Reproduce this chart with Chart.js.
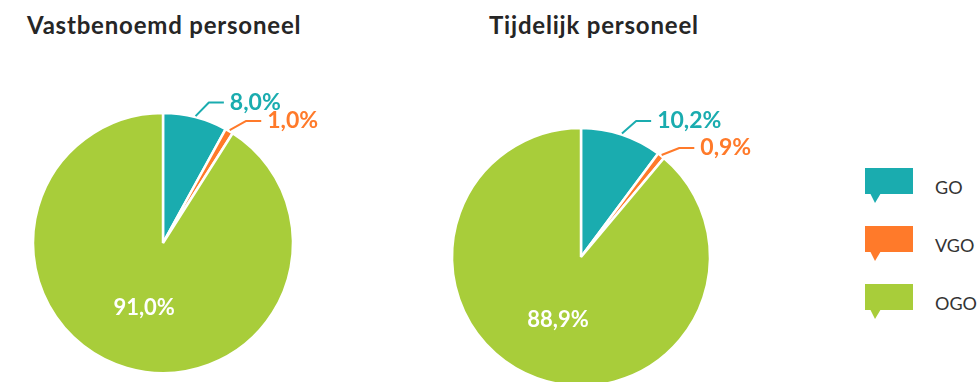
<!DOCTYPE html>
<html lang="nl">
<head>
<meta charset="utf-8">
<title>Personeel per net</title>
<script src="https://cdn.jsdelivr.net/npm/chart.js@4/dist/chart.umd.min.js"></script>
<style>
  html, body { margin: 0; padding: 0; background: #fff; overflow: hidden; }
  #stage { position: relative; width: 979px; height: 382px; overflow: hidden; }
  .heading {
    position: absolute; top: 13px; margin: 0;
    font: 700 24px/24px Lato, "Open Sans", sans-serif; color: #262626;
    letter-spacing: 0.8px; white-space: nowrap;
  }
  canvas.pie { position: absolute; top: 0; }
  #legend { position: absolute; left: 865px; top: 168px; }
  .item { position: relative; height: 58px; }
  .item svg { position: absolute; left: 0; top: 0; }
  .item span {
    position: absolute; left: 70px; top: 8px;
    font: 400 18px/22px Lato, "Open Sans", sans-serif; color: #333;
  }
</style>
</head>
<body>
<div id="stage">
  <h2 class="heading" id="h1" style="left:27px"></h2>
  <h2 class="heading" id="h2" style="left:489px"></h2>
  <canvas class="pie" id="pieVast" width="420" height="400" style="left:0"></canvas>
  <canvas class="pie" id="pieTijd" width="420" height="400" style="left:420px"></canvas>
  <div id="legend"></div>
</div>
<script>
// Onderwijsnetten en aandeel van het personeel (%)
const categories = ['GO', 'VGO', 'OGO'];
const vastbenoemd = [8.0, 1.0, 91.0];
const tijdelijk = [10.2, 0.9, 88.9];
const headings = ['Vastbenoemd personeel', 'Tijdelijk personeel'];

const netColors = ['#1aacaf', '#ff7a2a', '#a8cd3a'];

function pct(v) {
  return v.toFixed(1).replace('.', ',') + '%';
}

// Draws the percentage of every slice: white inside the big slice,
// coloured with a bent leader line next to the small ones.
const sliceLabels = {
  id: 'sliceLabels',
  afterDatasetsDraw(chart) {
    const ctx = chart.ctx;
    const meta = chart.getDatasetMeta(0);
    const values = chart.data.datasets[0].data;
    const colors = chart.data.datasets[0].backgroundColor;
    ctx.save();
    meta.data.forEach((arc, i) => {
      const p = arc.getProps(['x', 'y', 'startAngle', 'endAngle', 'outerRadius'], true);
      const mid = (p.startAngle + p.endAngle) / 2;
      const text = pct(values[i]);
      if (p.endAngle - p.startAngle > Math.PI) {
        const r = p.outerRadius * 0.52;
        ctx.font = '700 22px Lato, "Open Sans", sans-serif';
        ctx.fillStyle = '#ffffff';
        ctx.textAlign = 'center';
        ctx.textBaseline = 'middle';
        ctx.fillText(text, p.x + Math.cos(mid) * r, p.y + Math.sin(mid) * r);
        return;
      }
      const sx = p.x + Math.cos(mid) * (p.outerRadius + 1);
      const sy = p.y + Math.sin(mid) * (p.outerRadius + 1);
      const dir = mid + 30 * Math.PI / 180;
      const ex = sx + Math.cos(dir) * 19;
      const ey = sy + Math.sin(dir) * 19;
      const hx = ex + 15;
      ctx.strokeStyle = colors[i];
      ctx.lineWidth = 2;
      ctx.lineJoin = 'round';
      ctx.beginPath();
      ctx.moveTo(sx, sy);
      ctx.lineTo(ex, ey);
      ctx.lineTo(hx, ey);
      ctx.stroke();
      ctx.font = '700 23px Lato, "Open Sans", sans-serif';
      ctx.fillStyle = colors[i];
      ctx.textAlign = 'left';
      ctx.textBaseline = 'middle';
      ctx.fillText(text, hx + 6, ey);
    });
    ctx.restore();
  }
};

function makePie(id, values, radius, padding) {
  return new Chart(document.getElementById(id), {
    type: 'pie',
    data: {
      labels: categories,
      datasets: [{
        data: values,
        backgroundColor: netColors,
        borderColor: '#ffffff',
        borderWidth: 2.5
      }]
    },
    options: {
      responsive: false,
      animation: false,
      events: [],
      radius: radius,
      layout: { padding: padding },
      plugins: {
        legend: { display: false },
        tooltip: { enabled: false }
      }
    },
    plugins: [sliceLabels]
  });
}

document.getElementById('h1').textContent = headings[0];
document.getElementById('h2').textContent = headings[1];

makePie('pieVast', vastbenoemd, 130, { left: 33, right: 127, top: 113, bottom: 27 });
makePie('pieTijd', tijdelijk, 129, { left: 32, right: 130, top: 128, bottom: 14 });

// Legend: colour blocks shaped like speech bubbles
const legend = document.getElementById('legend');
categories.forEach((name, i) => {
  const item = document.createElement('div');
  item.className = 'item';
  item.innerHTML =
    '<svg width="48" height="36" viewBox="0 0 48 36">' +
    '<rect x="0" y="0" width="48" height="26" fill="' + netColors[i] + '"/>' +
    '<polygon points="5,25 16,25 10,35" fill="' + netColors[i] + '"/></svg>';
  const label = document.createElement('span');
  label.textContent = name;
  item.appendChild(label);
  legend.appendChild(item);
});
</script>
</body>
</html>
